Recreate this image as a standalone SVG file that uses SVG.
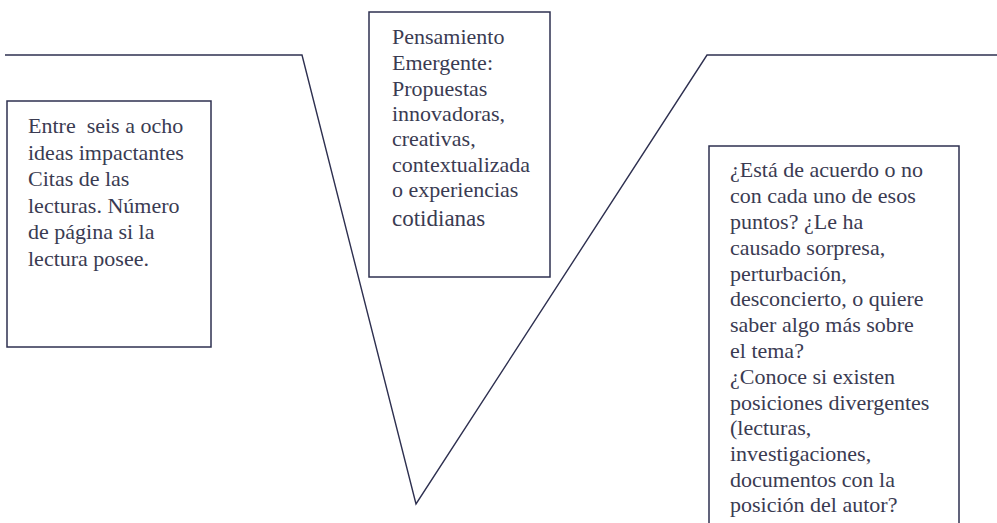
<svg xmlns="http://www.w3.org/2000/svg" width="997" height="523" viewBox="0 0 997 523">
<style>
.box{fill:none;stroke:#2e3050;stroke-width:1.5}
.ln{fill:none;stroke:#2e3050;stroke-width:1.4;stroke-linejoin:miter}
text{font-family:"Liberation Serif","Times New Roman",serif;font-size:22px;fill:#3a3b52}
</style>
<rect width="997" height="523" fill="#ffffff"/>
<g id="connectors">
<polyline class="ln" points="5,55 302,55 416,504 707,55 997,55"/>
</g>
<g id="node-left">
<rect class="box" x="7" y="101" width="204" height="246"/>
<text x="28" y="133">Entre&#160; seis a ocho</text>
<text x="28" y="159.5">ideas impactantes</text>
<text x="28" y="186">Citas de las</text>
<text x="28" y="212.5">lecturas. Número</text>
<text x="28" y="239">de página si la</text>
<text x="28" y="265.5">lectura posee.</text>
</g>
<g id="node-middle">
<rect class="box" x="369" y="12" width="181" height="265"/>
<text x="392" y="44">Pensamiento</text>
<text x="392" y="70">Emergente:</text>
<text x="392" y="95.5">Propuestas</text>
<text x="392" y="121">innovadoras,</text>
<text x="392" y="146">creativas,</text>
<text x="392" y="172">contextualizada</text>
<text x="392" y="197">o experiencias</text>
<text x="392" y="226" style="font-size:23px">cotidianas</text>
</g>
<g id="node-right">
<polyline class="box" points="709,530 709,146 959,146 959,530"/>
<text x="730" y="177">¿Está de acuerdo o no</text>
<text x="730" y="203">con cada uno de esos</text>
<text x="730" y="229">puntos? ¿Le ha</text>
<text x="730" y="254.5">causado sorpresa,</text>
<text x="730" y="280.5">perturbación,</text>
<text x="730" y="306">desconcierto, o quiere</text>
<text x="730" y="332">saber algo más sobre</text>
<text x="730" y="358">el tema?</text>
<text x="730" y="383.5">¿Conoce si existen</text>
<text x="730" y="409.5">posiciones divergentes</text>
<text x="730" y="435">(lecturas,</text>
<text x="730" y="461">investigaciones,</text>
<text x="730" y="487">documentos con la</text>
<text x="730" y="512">posición del autor?</text>
</g>
</svg>
